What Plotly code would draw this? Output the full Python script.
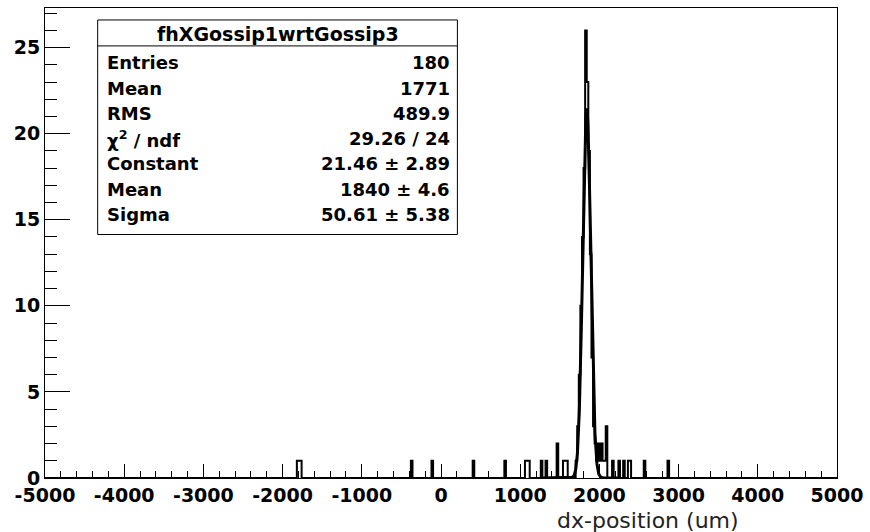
import numpy as np
import plotly.graph_objects as go

# Histogram definition: 500 bins of 20 um from -5000 to 5000 um
x_min, x_max, n_bins = -5000.0, 5000.0, 500

# Non-empty bins (bin centre in um, entries)
bin_centers = [-1810, -1790, -1770, -380, -110, 410, 810, 1070, 1090, 1110,
               1270, 1330, 1470, 1550, 1570, 1590,
               1710, 1730, 1750, 1770, 1790, 1810, 1830, 1850, 1870, 1890,
               1910, 1930, 1950, 1970, 1990, 2010, 2030, 2050, 2070, 2090,
               2170, 2250, 2310, 2370, 2390, 2570, 2870]
bin_counts = [1, 1, 1, 1, 1, 1, 1, 1, 1, 1,
              1, 1, 2, 1, 1, 1,
              1, 3, 6, 10, 14, 18, 26, 23, 19, 13,
              7, 3, 2, 1, 2, 1, 2, 1, 1, 3,
              1, 1, 1, 1, 1, 1, 1]

# Gaussian fit result
fit_const, fit_mean, fit_sigma = 21.46, 1840.0, 50.61
fit_range = (1281.1, 2260.9)

# Axis tick labels
x_tickvals = [-5000, -4000, -3000, -2000, -1000, 0, 1000, 2000, 3000, 4000, 5000]
x_ticktext = ["-5000", "-4000", "-3000", "-2000", "-1000", "0",
              "1000", "2000", "3000", "4000", "5000"]
y_tickvals = [0, 5, 10, 15, 20, 25]
y_ticktext = ["0", "5", "10", "15", "20", "25"]

# Statistics box content
stats_title = "fhXGossip1wrtGossip3"
stats_names = ["Entries", "Mean", "RMS", "χ<sup>2</sup> / ndf", "Constant", "Mean", "Sigma"]
stats_values = ["180", "1771", "489.9", "29.26 / 24", "21.46 ± 2.89", "1840 ± 4.6", "50.61 ± 5.38"]

x_title = "dx-position (um)"

# ---- build the binned contents
edges = np.linspace(x_min, x_max, n_bins + 1)
width = edges[1] - edges[0]
counts = np.zeros(n_bins)
for c, n in zip(bin_centers, bin_counts):
    counts[int((c - x_min) // width)] += n

step_x = np.append(edges[:-1], edges[-1])
step_y = np.append(counts, counts[-1])

fx = np.linspace(fit_range[0], fit_range[1], 800)
fy = fit_const * np.exp(-0.5 * ((fx - fit_mean) / fit_sigma) ** 2)

W, H = 870, 532
L, R, T, B = 45, 842, 7, 478  # frame in pixels
y_top = 27.3

fig = go.Figure()
fig.add_trace(go.Scatter(x=step_x, y=step_y, mode="lines", line_shape="hv",
                         line=dict(color="black", width=2), hoverinfo="skip"))
fig.add_trace(go.Scatter(x=fx, y=fy, mode="lines",
                         line=dict(color="black", width=3), hoverinfo="skip"))

font_bold = "DejaVu Sans"
tick_font = dict(family=font_bold, size=19, color="black", weight="bold")

fig.update_xaxes(range=[x_min, x_max], tickmode="array",
                 tickvals=x_tickvals, ticktext=x_ticktext,
                 ticks="inside", ticklen=14, tickwidth=1, tickcolor="black",
                 minor=dict(ticks="inside", ticklen=7, dtick=200, tick0=0, tickcolor="black"),
                 showline=True, mirror=True, linecolor="black", linewidth=1,
                 showgrid=False, zeroline=False, tickfont=tick_font)
fig.update_yaxes(range=[0, y_top], tickmode="array",
                 tickvals=y_tickvals, ticktext=y_ticktext,
                 ticks="inside", ticklen=25, tickwidth=1, tickcolor="black",
                 minor=dict(ticks="inside", ticklen=12, dtick=1, tick0=0, tickcolor="black"),
                 showline=True, mirror=True, linecolor="black", linewidth=1,
                 showgrid=False, zeroline=False, tickfont=tick_font)


def px(x):
    return (x - L) / (R - L)


def py(y):
    return (B - y) / (B - T)


# statistics box
bx0, bx1, by0, by1, by_sep = 98, 460, 19, 234, 45
fig.add_shape(type="rect", xref="paper", yref="paper",
              x0=px(bx0), x1=px(bx1), y0=py(by1), y1=py(by0),
              line=dict(color="black", width=1), fillcolor="white", layer="above")
fig.add_shape(type="line", xref="paper", yref="paper",
              x0=px(bx0), x1=px(bx1), y0=py(by_sep), y1=py(by_sep),
              line=dict(color="black", width=1), layer="above")
box_font = dict(family=font_bold, size=18, color="black", weight="bold")
fig.add_annotation(xref="paper", yref="paper", x=px((bx0 + bx1) / 2), y=py(33),
                   text=stats_title, showarrow=False,
                   font=dict(family=font_bold, size=19, color="black", weight="bold"),
                   xanchor="center", yanchor="middle")
row0, drow = 62, 25.3
for i, (name, val) in enumerate(zip(stats_names, stats_values)):
    yy = py(row0 + i * drow)
    fig.add_annotation(xref="paper", yref="paper", x=px(bx0 + 7), y=yy, text=name,
                       showarrow=False, font=box_font, xanchor="left", yanchor="middle")
    fig.add_annotation(xref="paper", yref="paper", x=px(bx1 - 5), y=yy, text=val,
                       showarrow=False, font=box_font, xanchor="right", yanchor="middle")

fig.add_annotation(xref="paper", yref="paper", x=px(745), y=py(521), text=x_title,
                   showarrow=False, xanchor="right", yanchor="middle",
                   font=dict(family="DejaVu Sans", size=22, color="#222222"))

fig.update_layout(width=W, height=H, showlegend=False,
                  margin=dict(l=L, r=W - R, t=T, b=H - B, pad=0),
                  plot_bgcolor="white", paper_bgcolor="white")

fig.write_html("out.html")
